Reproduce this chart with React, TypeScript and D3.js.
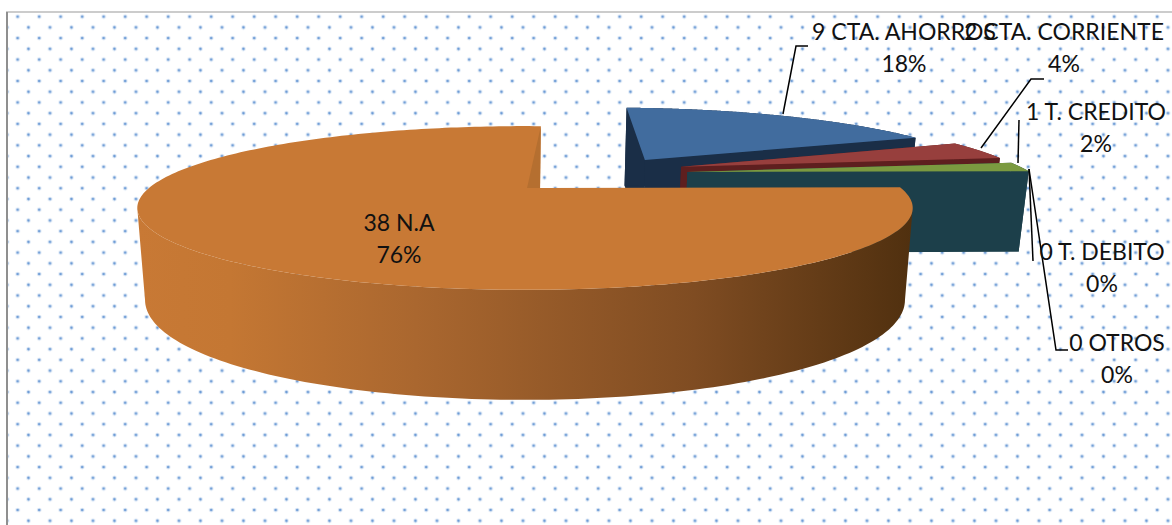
import React from "react";
import * as d3 from "d3";

// Account types and how many respondents hold each one
const categories = ["CTA. AHORROS", "CTA. CORRIENTE", "T. CREDITO", "T. DEBITO", "OTROS", "N.A"];
const counts = [9, 2, 1, 0, 0, 38];
const shares = ["18%", "4%", "2%", "0%", "0%", "76%"];

const W = 1172;
const H = 525;

// Perspective disk: u runs right, v runs away from the viewer
const CX = 525;
const APEX_Y = 188;
const SX = 376;
const SY = 77;
const K = 0.244;
const BOTTOM_SHRINK = 0.98;

const project = (u: number, v: number) => {
  const w = 1 + K * v;
  return [CX + (SX * u) / w, APEX_Y - (SY * v) / w];
};
const dropDepth = (v: number) => Math.max(78, 86 - 24 * v);
const lower = (u: number, v: number) => {
  const [x, y] = project(u, v);
  return [CX + (x - CX) * BOTTOM_SHRINK, y + dropDepth(v)];
};

// How far each wedge is pulled out of the disk, in disk units
const explodeU = [0.31, 0.405, 0.415, 0, 0, 0];
const explodeV = [0.4, 0.295, 0.22, 0, 0, 0];
const APEX_U = 0.04;

const topColors = ["#416c9e", "#973f3d", "#7b9a40", "#7b9a40", "#7b9a40", "#c87935"];
const cutColors = ["#1a2e47", "#5e1f1f", "#1c3f4a", "#1c3f4a", "#1c3f4a", "#b56f30"];

const slices = d3
  .pie<number>()
  .sort(null)
  .startAngle((3 * Math.PI) / 180)
  .endAngle((363 * Math.PI) / 180)(counts);

type Pt = number[];
const pathOf = (pts: Pt[]) => d3.line()(pts as [number, number][]) + "Z";

const geometry = (i: number) => {
  const s = slices[i];
  const du = explodeU[i];
  const dv = explodeV[i];
  const angles = d3.range(0, 241).map((n) => s.startAngle + ((s.endAngle - s.startAngle) * n) / 240);
  const disk = angles.map((a) => [Math.sin(a) + du, Math.cos(a) + dv]);
  const apex = [APEX_U + du, dv];
  const rim = disk.map(([u, v]) => project(u, v));
  const rimLow = disk.map(([u, v]) => lower(u, v));
  const center = project(apex[0], apex[1]);
  const centerLow = lower(apex[0], apex[1]);
  return { rim, rimLow, center, centerLow };
};

// Leader lines run from each label to its wedge
const leaderLines: Pt[][] = [
  [[808, 46], [796, 46], [783, 114]],
  [[1044, 79], [1031, 79], [981, 148]],
  [[1019, 120], [1018, 163]],
  [[1029, 169], [1033, 261]],
  [[1029, 169], [1056, 350], [1068, 350]],
];

const labelPositions = [
  { x: 904, y: 32 },
  { x: 1064, y: 32 },
  { x: 1096, y: 112 },
  { x: 1102, y: 252 },
  { x: 1117, y: 343 },
  { x: 399, y: 223 },
];

// Dot positions inside one tile of the background texture
const dotCentres = [
  [11.1, 10.8],
  [0.4, 0.1],
  [21.9, 0.1],
  [0.4, 21.55],
  [21.9, 21.55],
];

export default function App() {
  const order = [0, 1, 2];
  const orange = geometry(5);

  // The visible outer wall spans the rim between its rightmost and leftmost points
  const xs = orange.rim.map((p) => p[0]);
  const rightmost = d3.maxIndex(xs);
  const leftmost = d3.minIndex(xs);
  const wallTop = orange.rim.slice(rightmost, leftmost + 1);
  const wallLow = orange.rimLow.slice(rightmost, leftmost + 1);

  return (
    <svg
      width={W}
      height={H}
      viewBox={`0 0 ${W} ${H}`}
      style={{ position: "absolute", left: 0, top: 0, background: "#fff" }}
    >
      <defs>
        <pattern id="dots" x={6.6} y={5.9} width={21.5} height={21.45} patternUnits="userSpaceOnUse">
          {dotCentres.map(([x, y], i) => (
            <g key={i}>
              <circle cx={x} cy={y} r={2.3} fill="#dbe7f5" />
              <circle cx={x} cy={y} r={1.25} fill="#6b9ad5" />
            </g>
          ))}
        </pattern>
        <linearGradient id="wall" gradientUnits="userSpaceOnUse" x1={137} x2={912} y1={0} y2={0}>
          <stop offset="0" stopColor="#c87935" />
          <stop offset="0.12" stopColor="#c47733" />
          <stop offset="0.36" stopColor="#aa672f" />
          <stop offset="0.72" stopColor="#7f4c22" />
          <stop offset="1" stopColor="#50300f" />
        </linearGradient>
      </defs>

      <rect x={0} y={0} width={W} height={H} fill="#fff" />
      <rect x={7} y={12.5} width={W - 7} height={H} fill="url(#dots)" />
      <line x1={6} x2={W} y1={12} y2={12} stroke="#9a9a9a" strokeWidth={1.2} />
      <line x1={7} x2={7} y1={12} y2={H} stroke="#8f8f8f" strokeWidth={2} />

      {order.map((i) => {
        const g = geometry(i);
        const first = g.rim[0];
        const firstLow = g.rimLow[0];
        const last = g.rim[g.rim.length - 1];
        const lastLow = g.rimLow[g.rimLow.length - 1];
        return (
          <g key={categories[i]}>
            <path d={pathOf([first, g.center, g.centerLow, firstLow])} fill={cutColors[i]} />
            <path d={pathOf([...g.rim, ...g.rimLow.slice().reverse()])} fill={cutColors[i]} />
            <path d={pathOf([g.center, last, lastLow, g.centerLow])} fill={cutColors[i]} />
            <path d={pathOf([g.center, ...g.rim])} fill={topColors[i]} />
          </g>
        );
      })}

      {/* The large wedge: outer wall, then its top face and the cut edge behind it */}
      <path d={pathOf([...wallTop, ...wallLow.slice().reverse()])} fill="url(#wall)" />
      <path d={pathOf([orange.center, ...orange.rim])} fill={topColors[5]} />
      <path
        d={pathOf([orange.rim[orange.rim.length - 1], orange.center, [orange.center[0] - 13, orange.center[1]]])}
        fill={cutColors[5]}
      />

      {leaderLines.map((pts, i) => (
        <path key={i} d={d3.line()(pts as [number, number][]) ?? ""} fill="none" stroke="#000" strokeWidth={1.5} />
      ))}

      {categories.map((c, i) => (
        <text
          key={c}
          x={labelPositions[i].x}
          y={labelPositions[i].y}
          textAnchor="middle"
          fontFamily="Lato, 'Open Sans', sans-serif"
          fontSize={23}
          fill="#111"
        >
          <tspan x={labelPositions[i].x} dy={7.5}>{`${counts[i]} ${c}`}</tspan>
          <tspan x={labelPositions[i].x} dy={32}>{shares[i]}</tspan>
        </text>
      ))}
    </svg>
  );
}
